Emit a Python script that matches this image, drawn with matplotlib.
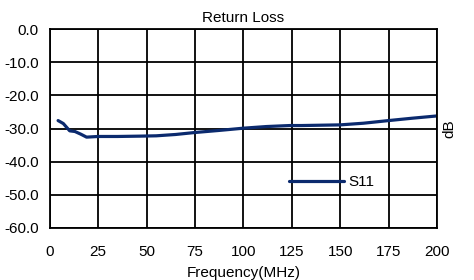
import numpy as np
import matplotlib
matplotlib.use("Agg")
import matplotlib.pyplot as plt

plt.rcParams['font.family'] = ['Liberation Sans', 'DejaVu Sans']

# S11 return loss
freq_mhz = [4.3, 7, 10.3, 13, 16, 19, 25, 35, 46.5, 55, 65, 75, 87, 100,
            112, 124, 130, 140, 150, 162, 175, 187, 200]
s11_db = [-27.6, -28.5, -30.7, -30.9, -31.7, -32.6, -32.4, -32.4, -32.3, -32.2,
          -31.8, -31.2, -30.6, -29.9, -29.4, -29.1, -29.1, -29.0, -28.9, -28.4,
          -27.6, -26.9, -26.2]

xticks = [0, 25, 50, 75, 100, 125, 150, 175, 200]
yticks = [0, -10, -20, -30, -40, -50, -60]

fig = plt.figure(figsize=(4.74, 2.80), dpi=100)
ax = fig.add_axes([0.105, 0.186, 0.817, 0.710])

ax.plot(freq_mhz, s11_db, color="#0b2a6e", lw=2.3, label="S11",
        solid_capstyle="round")

ax.set_xlim(0, 200)
ax.set_ylim(-60, 0)
ax.set_xticks(xticks)
ax.set_yticks(yticks)
ax.set_yticklabels(["%.1f" % v for v in yticks])
ax.grid(True, color="black", lw=1.3)
ax.tick_params(length=0, labelsize=11, pad=8)
ax.tick_params(axis="x", pad=12)
for s in ax.spines.values():
    s.set_linewidth(1.3)

ax.set_title("Return Loss", fontsize=11, pad=5)
ax.set_xlabel("Frequency(MHz)", fontsize=11, labelpad=5)
ax.yaxis.set_label_position("right")
ax.set_ylabel("dB", fontsize=11, labelpad=4)

ax.legend(loc="lower left", bbox_to_anchor=(0.583, 0.125), frameon=False,
          fontsize=11, handlelength=3.6, handletextpad=0.25)

fig.savefig("out.png", dpi=100)
